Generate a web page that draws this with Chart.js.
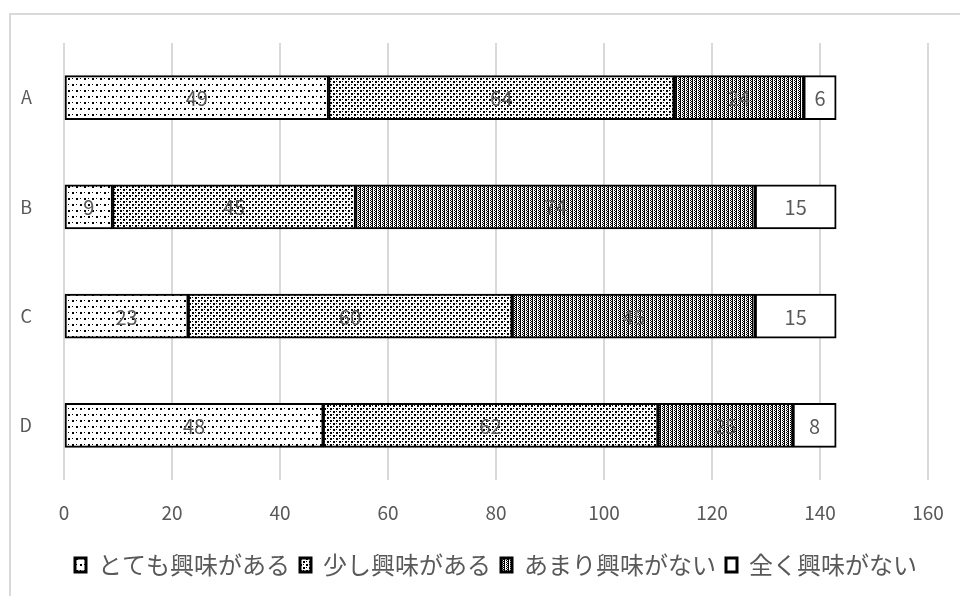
<!DOCTYPE html>
<html>
<head>
<meta charset="utf-8">
<script src="https://cdn.jsdelivr.net/npm/chart.js@4/dist/chart.umd.min.js"></script>
<style>
  html, body { margin: 0; padding: 0; background: #fff; }
  #wrap { position: relative; width: 960px; height: 596px; }
  #frame { position: absolute; left: 9px; top: 13px; width: 960px; height: 600px;
           border: 2px solid #d9d9d9; pointer-events: none; }
</style>
</head>
<body>
<div id="wrap">
  <canvas id="chart" width="960" height="596"></canvas>
  <div id="frame"></div>
</div>
<script>
// categories and series
const categories = ['A', 'B', 'C', 'D'];
const seriesNames = ['とても興味がある', '少し興味がある', 'あまり興味がない', '全く興味がない'];
const veryInterested = [49, 9, 23, 48];
const someInterested = [64, 45, 60, 62];
const littleInterest = [24, 74, 45, 25];
const noInterest = [6, 15, 15, 8];
const xTicks = [0, 20, 40, 60, 80, 100, 120, 140, 160];

const FONT = '"Noto Sans CJK JP", "Noto Sans", sans-serif';
const GRAY = '#595959';

// build a small black-on-white tile and turn it into a canvas pattern
function makePattern(w, h, pixels) {
    const c = document.createElement('canvas');
    c.width = w; c.height = h;
    const g = c.getContext('2d');
    g.fillStyle = '#fff';
    g.fillRect(0, 0, w, h);
    g.fillStyle = '#000';
    pixels.forEach(p => g.fillRect(p[0], p[1], p[2] || 1, p[3] || 1));
    return g.createPattern(c, 'repeat');
}

const patSparse = makePattern(8, 12, [[0, 0, 2, 2], [4, 6, 2, 2], [4, 0], [0, 6]]);
const patDots = makePattern(6, 6, [[0, 0, 2, 2], [3, 3, 2, 2], [3, 0], [0, 3]]);
const patColumns = makePattern(4, 2, [[0, 0, 1, 2], [2, 0], [3, 1]]);

// centered value labels on each segment
const segmentLabels = {
    id: 'segmentLabels',
    afterDatasetsDraw(chart) {
        const ctx = chart.ctx;
        ctx.save();
        ctx.fillStyle = GRAY;
        ctx.font = '20px ' + FONT;
        ctx.textAlign = 'center';
        ctx.textBaseline = 'middle';
        chart.data.datasets.forEach((ds, i) => {
            chart.getDatasetMeta(i).data.forEach((bar, j) => {
                ctx.fillText(String(ds.data[j]), (bar.x + bar.base) / 2, bar.y + 1);
            });
        });
        ctx.restore();
    }
};

const fills = [patSparse, patDots, patColumns, '#ffffff'];
const values = [veryInterested, someInterested, littleInterest, noInterest];

new Chart(document.getElementById('chart'), {
    type: 'bar',
    data: {
        labels: categories,
        datasets: seriesNames.map((name, i) => ({
            label: name,
            data: values[i],
            backgroundColor: fills[i],
            borderColor: '#000',
            borderWidth: 2,
            borderSkipped: false,
            barThickness: 44
        }))
    },
    options: {
        indexAxis: 'y',
        responsive: false,
        animation: false,
        layout: { padding: { top: 43, right: 32, bottom: 9, left: 0 } },
        scales: {
            x: {
                stacked: true,
                min: 0,
                max: 160,
                afterBuildTicks: axis => { axis.ticks = xTicks.map(v => ({ value: v })); },
                grid: { color: '#d9d9d9', lineWidth: 2, drawTicks: false },
                border: { display: false },
                ticks: { color: GRAY, font: { family: FONT, size: 19 }, padding: 21 },
                afterFit: axis => {
                    axis.height = 63;
                    axis.paddingLeft = 0;
                    axis.paddingRight = 0;
                }
            },
            y: {
                stacked: true,
                grid: { display: false },
                border: { display: false },
                ticks: { color: GRAY, font: { family: FONT, size: 18 }, padding: 24 },
                afterFit: axis => { axis.width = 64; }
            }
        },
        plugins: {
            legend: {
                position: 'bottom',
                align: 'center',
                fullSize: false,
                labels: {
                    color: GRAY,
                    font: { family: FONT, size: 24 },
                    boxWidth: 11,
                    boxHeight: 14,
                    padding: 10,
                    // heavier box outline, like the original legend keys
                    generateLabels: chart => Chart.defaults.plugins.legend.labels.generateLabels(chart)
                        .map(item => Object.assign(item, { lineWidth: 3 }))
                }
            },
            tooltip: { enabled: false }
        }
    },
    plugins: [segmentLabels]
});
</script>
</body>
</html>
